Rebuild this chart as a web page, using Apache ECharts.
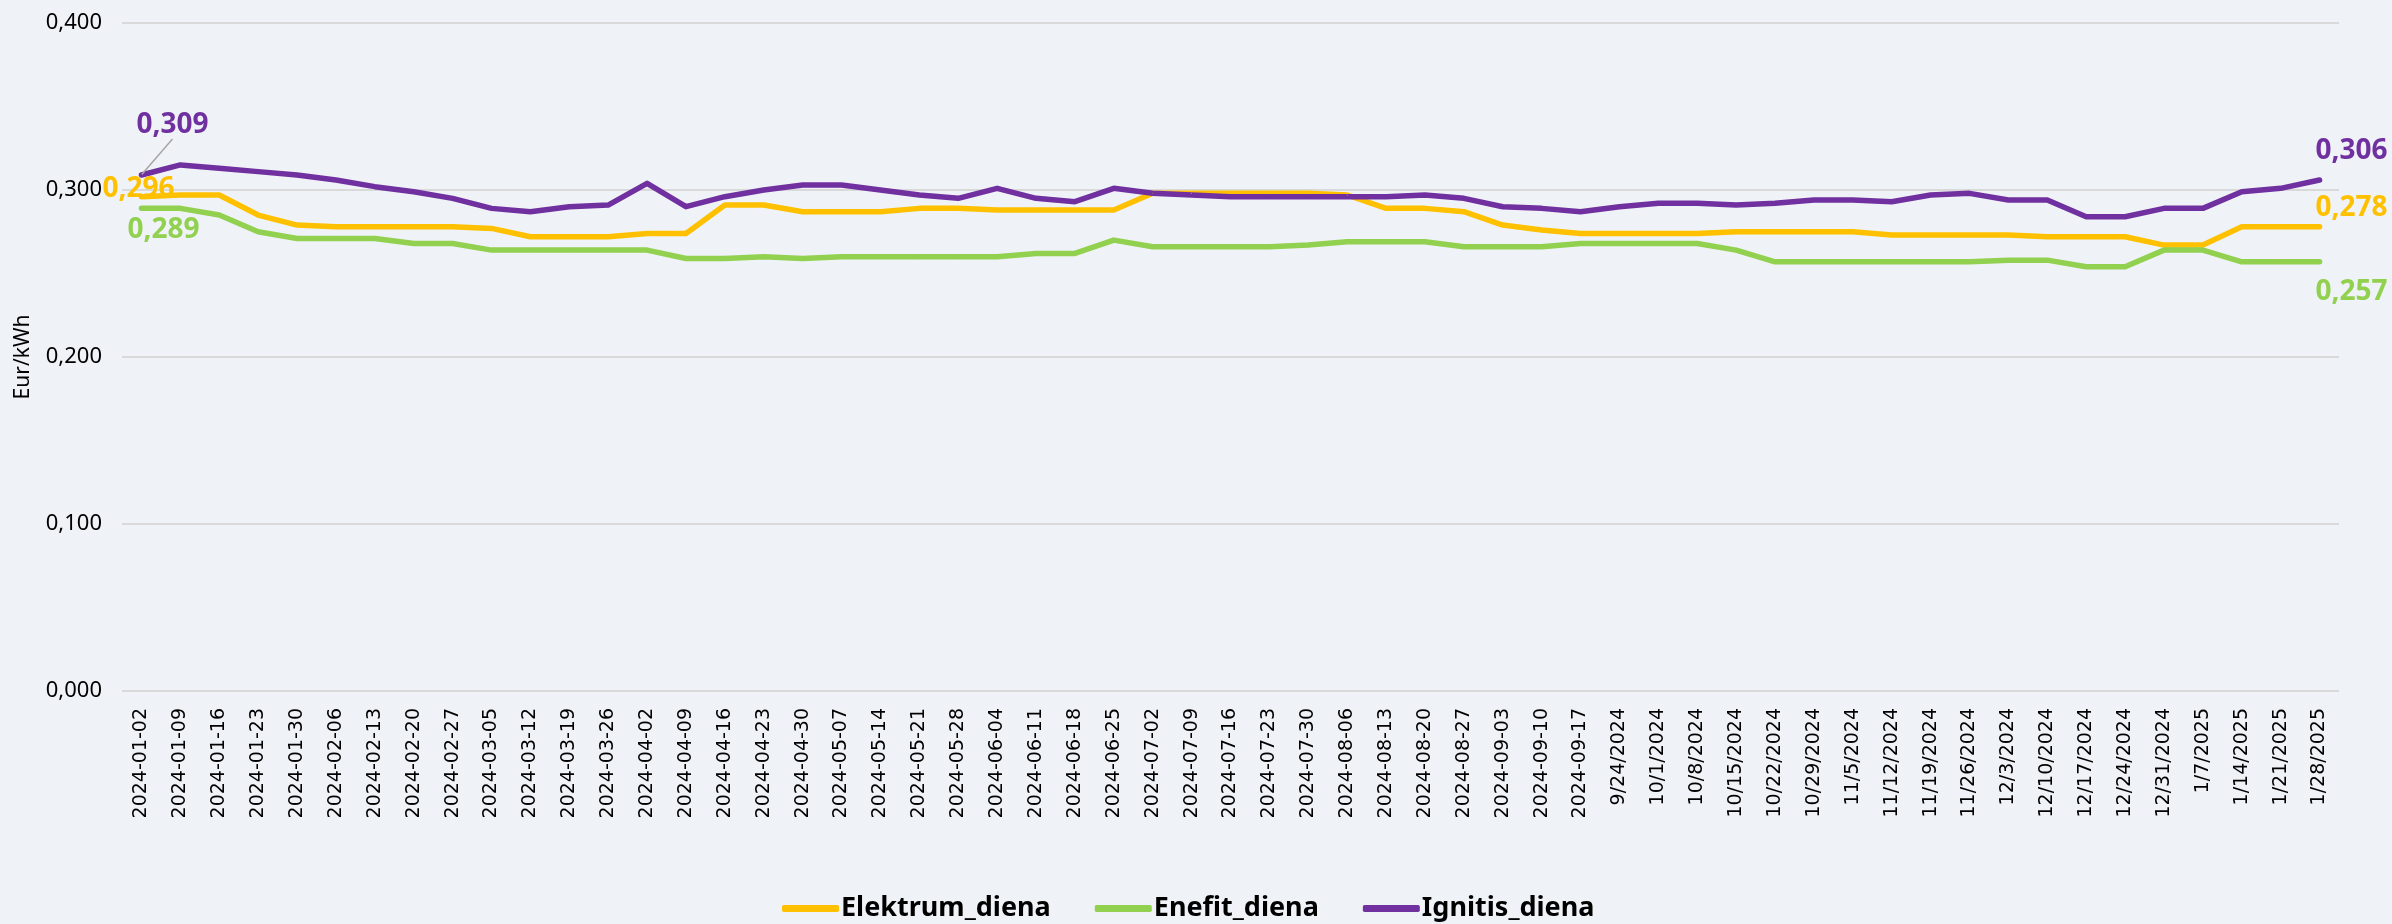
<!DOCTYPE html>
<html>
<head>
<meta charset="utf-8">
<script src="https://cdn.jsdelivr.net/npm/echarts@6/dist/echarts.min.js"></script>
<style>
  html, body { margin: 0; padding: 0; background: #eff3f7; }
  #chart { width: 2392px; height: 924px; }
</style>
</head>
<body>
<div id="chart"></div>
<script>
// savaitės
var dates = ['2024-01-02','2024-01-09','2024-01-16','2024-01-23','2024-01-30','2024-02-06','2024-02-13','2024-02-20','2024-02-27',
  '2024-03-05','2024-03-12','2024-03-19','2024-03-26','2024-04-02','2024-04-09','2024-04-16','2024-04-23','2024-04-30',
  '2024-05-07','2024-05-14','2024-05-21','2024-05-28','2024-06-04','2024-06-11','2024-06-18','2024-06-25','2024-07-02',
  '2024-07-09','2024-07-16','2024-07-23','2024-07-30','2024-08-06','2024-08-13','2024-08-20','2024-08-27','2024-09-03',
  '2024-09-10','2024-09-17','9/24/2024','10/1/2024','10/8/2024','10/15/2024','10/22/2024','10/29/2024','11/5/2024',
  '11/12/2024','11/19/2024','11/26/2024','12/3/2024','12/10/2024','12/17/2024','12/24/2024','12/31/2024','1/7/2025',
  '1/14/2025','1/21/2025','1/28/2025'];

var elektrum = [0.296,0.297,0.297,0.285,0.279,0.278,0.278,0.278,0.278,0.277,0.272,0.272,0.272,0.274,0.274,0.291,0.291,0.287,
  0.287,0.287,0.289,0.289,0.288,0.288,0.288,0.288,0.298,0.298,0.298,0.298,0.298,0.297,0.289,0.289,0.287,0.279,0.276,0.274,
  0.274,0.274,0.274,0.275,0.275,0.275,0.275,0.273,0.273,0.273,0.273,0.272,0.272,0.272,0.267,0.267,0.278,0.278,0.278];

var enefit = [0.289,0.289,0.285,0.275,0.271,0.271,0.271,0.268,0.268,0.264,0.264,0.264,0.264,0.264,0.259,0.259,0.260,0.259,
  0.260,0.260,0.260,0.260,0.260,0.262,0.262,0.270,0.266,0.266,0.266,0.266,0.267,0.269,0.269,0.269,0.266,0.266,0.266,0.268,
  0.268,0.268,0.268,0.264,0.257,0.257,0.257,0.257,0.257,0.257,0.258,0.258,0.254,0.254,0.264,0.264,0.257,0.257,0.257];

var ignitis = [0.309,0.315,0.313,0.311,0.309,0.306,0.302,0.299,0.295,0.289,0.287,0.290,0.291,0.304,0.290,0.296,0.300,0.303,
  0.303,0.300,0.297,0.295,0.301,0.295,0.293,0.301,0.298,0.297,0.296,0.296,0.296,0.296,0.296,0.297,0.295,0.290,0.289,0.287,
  0.290,0.292,0.292,0.291,0.292,0.294,0.294,0.293,0.297,0.298,0.294,0.294,0.284,0.284,0.289,0.289,0.299,0.301,0.306];

var names = ['Elektrum_diena', 'Enefit_diena', 'Ignitis_diena'];
var colors = ['#ffc000', '#92d050', '#7030a0'];

function fmt(v) { return v.toFixed(3).replace('.', ','); }

// pirmas ir paskutinis taškas su reikšme
function withLabels(vals, color, firstOffset, lastOffset) {
  var last = vals.length - 1;
  return vals.map(function (v, i) {
    if (i !== 0 && i !== last) return v;
    return {
      value: v,
      label: {
        show: true,
        position: 'inside',
        offset: i === 0 ? firstOffset : lastOffset,
        formatter: function (p) { return fmt(p.value); },
        color: color,
        fontFamily: 'Noto Sans',
        fontWeight: 'bold',
        fontSize: 28
      }
    };
  });
}

var igData = withLabels(ignitis, colors[2], [0, 0], [0, 0]);
igData[igData.length - 1].labelLine = { show: false };

var myChart = echarts.init(document.getElementById('chart'));

var option = {
  backgroundColor: '#eff3f7',
  animation: false,
  color: colors,
  grid: { left: 122, right: 53, top: 23, bottom: 233 },
  legend: {
    data: names,
    left: 782,
    top: 895,
    padding: 0,
    itemGap: 44,
    itemWidth: 57,
    itemHeight: 7,
    icon: 'roundRect',
    textStyle: { fontFamily: 'Noto Sans', fontWeight: 'bold', fontSize: 27, color: '#000', padding: [0, 0, 0, -3] }
  },
  xAxis: {
    type: 'category',
    data: dates,
    boundaryGap: true,
    axisLine: { show: false },
    axisTick: { show: false },
    axisLabel: { rotate: 90, interval: 0, margin: 17, fontFamily: 'DejaVu Sans', fontSize: 19, color: '#000' }
  },
  yAxis: {
    type: 'value',
    min: 0,
    max: 0.4,
    interval: 0.1,
    name: 'Eur/kWh',
    nameLocation: 'middle',
    nameRotate: 90,
    nameGap: 88,
    nameTextStyle: { fontFamily: 'Noto Sans', fontSize: 21, color: '#000' },
    axisLabel: { margin: 20, fontFamily: 'Noto Sans', fontSize: 22, color: '#000', formatter: fmt },
    splitLine: { lineStyle: { color: '#d9d9d9', width: 2 } }
  },
  series: [
    {
      name: names[0],
      type: 'line',
      data: withLabels(elektrum, colors[0], [-3, -8], [32, -19]),
      symbol: 'circle',
      symbolSize: 1,
      lineStyle: { width: 5.5, cap: 'round', join: 'round' }
    },
    {
      name: names[1],
      type: 'line',
      data: withLabels(enefit, colors[1], [22, 22], [32, 30]),
      symbol: 'circle',
      symbolSize: 1,
      lineStyle: { width: 5.5, cap: 'round', join: 'round' }
    },
    {
      name: names[2],
      type: 'line',
      data: igData,
      symbol: 'circle',
      symbolSize: 1,
      lineStyle: { width: 5.5, cap: 'round', join: 'round' },
      labelLine: { show: true, lineStyle: { color: '#a6a6a6', width: 1.5 } },
      labelLayout: function (p) {
        if (p.dataIndex === 0) return { dx: 31, dy: -50 };
        return { dx: 32, dy: -29 };
      }
    }
  ]
};

myChart.setOption(option);
</script>
</body>
</html>
